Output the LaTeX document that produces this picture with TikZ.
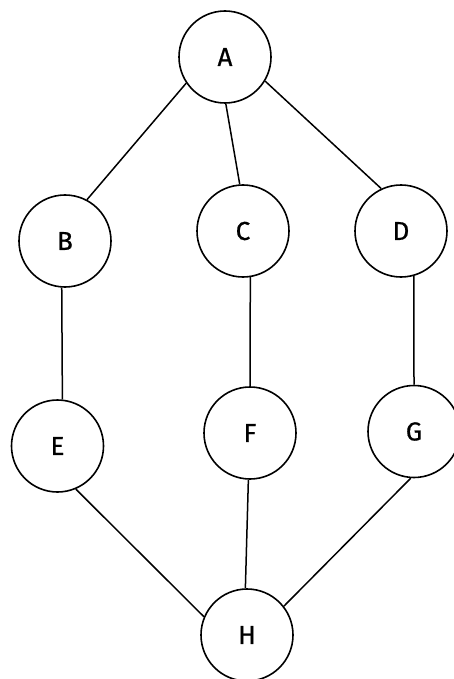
\documentclass[tikz,border=0pt]{standalone}
\usepackage{fontspec}
\setmainfont{Fira Sans}
\begin{document}
\begin{tikzpicture}[x=1pt,y=-1pt,
  vertex/.style={circle,draw=black,line width=1.6pt,minimum size=92pt,inner sep=0pt,font=\fontsize{26}{28}\selectfont\addfontfeatures{FakeBold=0.6}},
  edge/.style={draw=black,line width=1.5pt}]
\useasboundingbox (0,0) rectangle (453,679);
\node[vertex] (A) at (225,57) {A};
\node[vertex] (B) at (65,241) {B};
\node[vertex] (C) at (243,231) {C};
\node[vertex] (D) at (401,231) {D};
\node[vertex] (E) at (57.5,446) {E};
\node[vertex] (F) at (250,433) {F};
\node[vertex] (G) at (414,431.5) {G};
\node[vertex] (H) at (247,635) {H};
\draw[edge] (A.214) -- (B.62);
\draw[edge] (A.-89) -- (C.94);
\draw[edge] (A.-31) -- (D.115);
\draw[edge] (B.-94) -- (E.84);
\draw[edge] (C.-81) -- (F.90);
\draw[edge] (D.-74) -- (G.90);
\draw[edge] (E.-67) -- (H.157);
\draw[edge] (F.-92) -- (H.92);
\draw[edge] (G.-94) -- (H.38);
\end{tikzpicture}
\end{document}
